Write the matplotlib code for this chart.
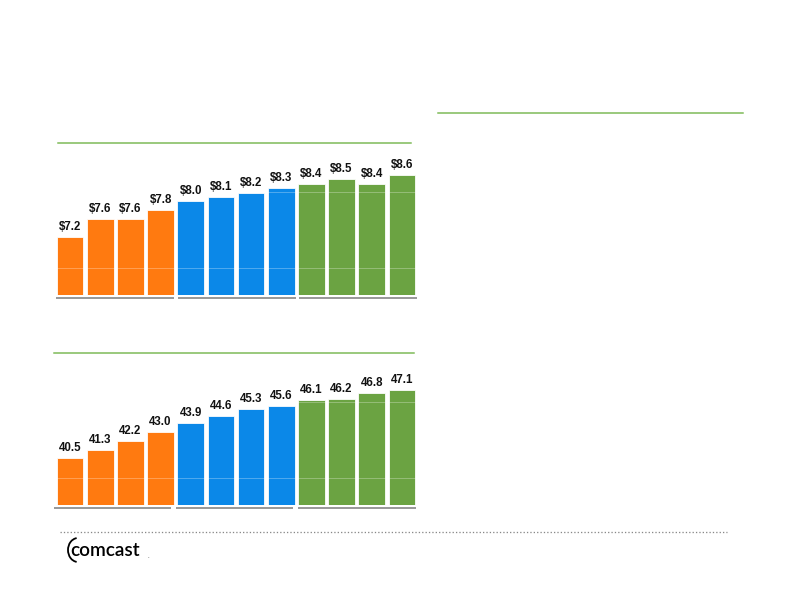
import matplotlib
matplotlib.use('Agg')
import matplotlib.pyplot as plt
from matplotlib.lines import Line2D
from matplotlib.patches import Arc

plt.rcParams['font.family'] = ['Liberation Sans', 'DejaVu Sans']

# data
quarters = list(range(12))
revenue = [7.2, 7.6, 7.6, 7.8, 8.0, 8.1, 8.2, 8.3, 8.4, 8.5, 8.4, 8.6]
revenue_labels = ['$7.2', '$7.6', '$7.6', '$7.8', '$8.0', '$8.1', '$8.2', '$8.3',
                  '$8.4', '$8.5', '$8.4', '$8.6']
rgu = [40.5, 41.3, 42.2, 43.0, 43.9, 44.6, 45.3, 45.6, 46.1, 46.2, 46.8, 47.1]
rgu_labels = ['40.5', '41.3', '42.2', '43.0', '43.9', '44.6', '45.3', '45.6',
              '46.1', '46.2', '46.8', '47.1']
year_colors = ['#FF7A10'] * 4 + ['#0B88E8'] * 4 + ['#6BA342'] * 4

W, H = 792, 612
fig = plt.figure(figsize=(W / 72, H / 72), dpi=72)


def px_axes(x0, y_top, x1, y_bot):
    return fig.add_axes([x0 / W, 1 - y_bot / H, (x1 - x0) / W, (y_bot - y_top) / H])


def hline(x0, x1, y, color, lw=1.0, ls='-'):
    fig.add_artist(Line2D([x0 / W, x1 / W], [1 - y / H, 1 - y / H],
                          color=color, lw=lw, ls=ls, transform=fig.transFigure))


def bar_panel(ax, values, labels, ylim):
    bars = ax.bar(quarters, values, width=0.88, color=year_colors,
                  edgecolor='white', linewidth=0.8, bottom=0)
    ax.set_ylim(*ylim)
    ax.set_xlim(-0.5, 11.5)
    for b, lab in zip(bars, labels):
        ax.annotate(lab, (b.get_x() + b.get_width() / 2, b.get_height()),
                    xytext=(0, 4), textcoords='offset points',
                    ha='center', va='bottom', fontsize=11.5, fontweight='bold',
                    color='#111111')
    for f in (0.18, 0.68):
        ax.axhline(ylim[0] + f * (ylim[1] - ylim[0]), color='white', lw=0.8, alpha=0.35)
    ax.axis('off')


# top panel
ax1 = px_axes(55, 143, 417, 295)
bar_panel(ax1, revenue, revenue_labels, (5.89, 9.32))

# bottom panel
ax2 = px_axes(55, 353, 417, 505)
bar_panel(ax2, rgu, rgu_labels, (35.94, 50.7))

# green rules
green_rule = '#7CB955'
hline(58, 411, 143, green_rule, 1.5)
hline(54, 414, 353, green_rule, 1.5)
hline(438, 743, 113, green_rule, 1.5)

# gray year underlines
for a, b in [(57, 173), (179, 295), (300, 416)]:
    hline(a, b, 297.5, '#9A9A9A', 2.0)
for a, b in [(55, 170), (177, 292), (299, 415)]:
    hline(a, b, 507.5, '#9A9A9A', 2.0)

# dotted footer rule
hline(60, 727, 532, '#888888', 1.3, (0, (1, 1.6)))

# logo
fig.text(70 / W, 1 - 550 / H, 'comcast', fontsize=19, color='black', fontweight='semibold',
         ha='left', va='center', family=['Lato', 'DejaVu Sans'])
fig.text(147 / W, 1 - 557 / H, '.', fontsize=6, color='black', ha='left', va='center')
fig.add_artist(Arc((78 / W, 1 - 550 / H), 20 / W, 24 / H, theta1=95, theta2=265,
                   color='black', lw=1.8, transform=fig.transFigure))

fig.savefig('out.png', dpi=72, facecolor='white')
